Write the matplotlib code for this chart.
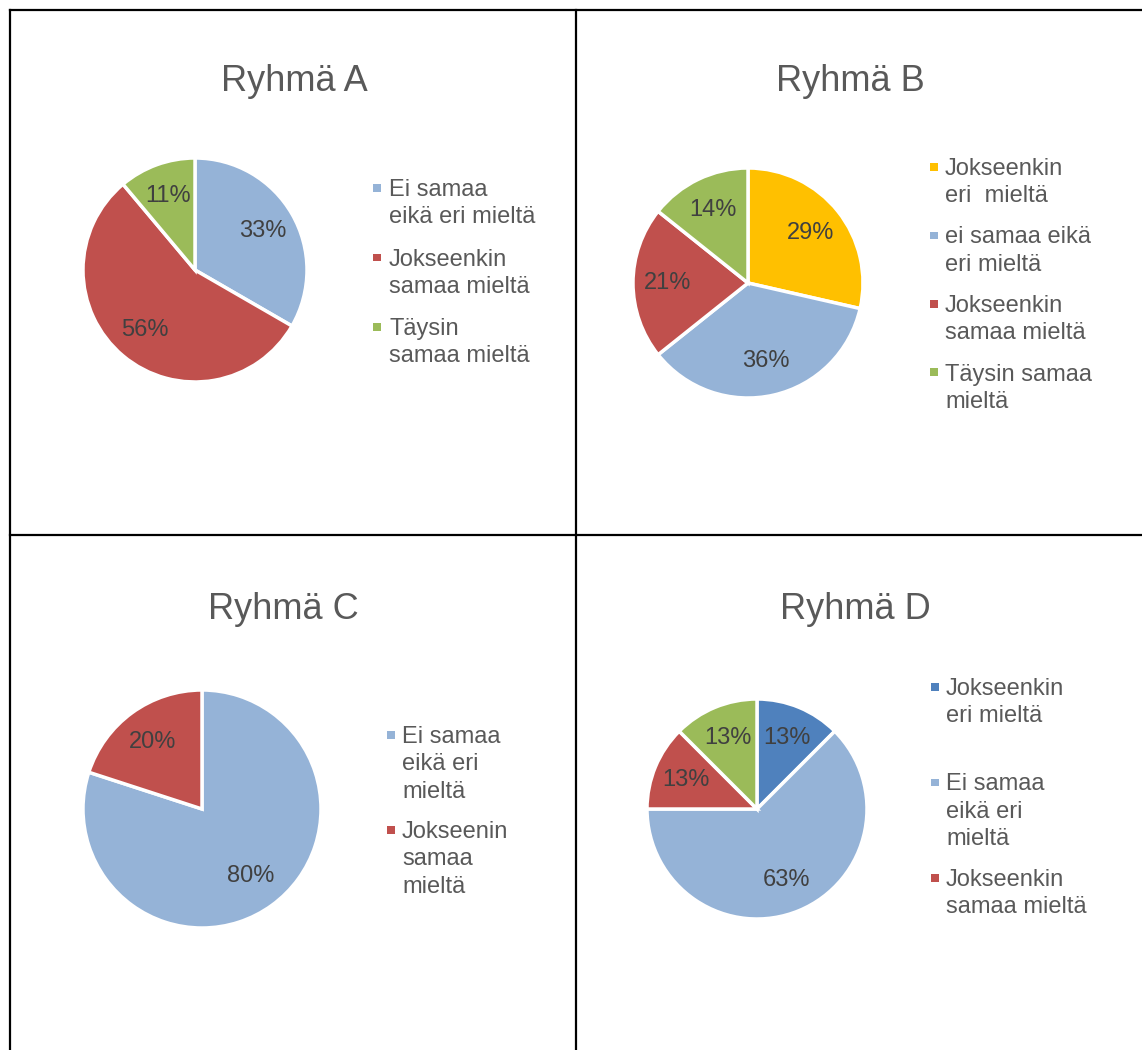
import math
import matplotlib
matplotlib.use("Agg")
import matplotlib.pyplot as plt
from matplotlib.lines import Line2D
from matplotlib.patches import Rectangle

plt.rcParams['font.family'] = ['Liberation Sans', 'DejaVu Sans']

# data (answer counts, shares shown as rounded percents)
titles = ["Ryhmä A", "Ryhmä B", "Ryhmä C", "Ryhmä D"]

a_values = [3, 5, 1]
a_labels = ["Ei samaa\neikä eri mieltä", "Jokseenkin\nsamaa mieltä", "Täysin\nsamaa mieltä"]
a_colors = ["#95B3D7", "#C0504D", "#9BBB59"]

b_values = [4, 5, 3, 2]
b_labels = ["Jokseenkin\neri  mieltä", "ei samaa eikä\neri mieltä", "Jokseenkin\nsamaa mieltä", "Täysin samaa\nmieltä"]
b_colors = ["#FFC000", "#95B3D7", "#C0504D", "#9BBB59"]

c_values = [4, 1]
c_labels = ["Ei samaa\neikä eri\nmieltä", "Jokseenin\nsamaa\nmieltä"]
c_colors = ["#95B3D7", "#C0504D"]

d_values = [1, 5, 1, 1]
d_labels = ["Jokseenkin\neri mieltä", "Ei samaa\neikä eri\nmieltä", "Jokseenkin\nsamaa mieltä"]
d_colors = ["#4F81BD", "#95B3D7", "#C0504D", "#9BBB59"]

W, H = 1142, 1050
fig = plt.figure(figsize=(W / 100, H / 100), dpi=100)

def fx(x):
    return x / W

def fy(y):
    return 1 - y / H

# table lines
for (x0, y0, x1, y1) in [(10, 10, W, 10), (10, 535, W, 535), (10, 10, 10, H), (576, 10, 576, H)]:
    fig.add_artist(Line2D([fx(x0), fx(x1)], [fy(y0), fy(y1)], color="black", lw=1.6))

# layout per panel: pie center/radius, title x/baseline, legend marker x, text x, first baseline, entry step
panels = [
    dict(values=a_values, labels=a_labels, colors=a_colors, cx=195, cy=270, r=112,
         tx=294, ty=91, mx=373, lx=389, ly=196, step=69.5),
    dict(values=b_values, labels=b_labels, colors=b_colors, cx=748, cy=283, r=115,
         tx=850, ty=91, mx=930, lx=945, ly=175, step=68.5),
    dict(values=c_values, labels=c_labels, colors=c_colors, cx=202, cy=809, r=119,
         tx=283, ty=619, mx=387, lx=402, ly=743, step=95),
    dict(values=d_values, labels=d_labels, colors=d_colors, cx=757, cy=809, r=110,
         tx=855, ty=619, mx=931, lx=946, ly=695, step=95.5),
]
line_step = 27.3

def pct(p):
    return "%d%%" % math.floor(p + 0.5)

for title, p in zip(titles, panels):
    ax = fig.add_axes([fx(p["cx"] - p["r"]), fy(p["cy"] + p["r"]), 2 * p["r"] / W, 2 * p["r"] / H])
    ax.pie(p["values"], colors=p["colors"], startangle=90, counterclock=False,
           autopct=pct, pctdistance=0.7,
           wedgeprops=dict(edgecolor="white", linewidth=2.5),
           textprops=dict(fontsize=17, color="#404040"))
    ax.set_xlim(-1, 1)
    ax.set_ylim(-1, 1)
    ax.set_aspect("equal")
    ax.axis("off")

    fig.text(fx(p["tx"]), fy(p["ty"]), title, ha="center", va="baseline",
             fontsize=26, color="#595959")

    # legend, marker beside first line of each entry
    for i, lab in enumerate(p["labels"]):
        base = p["ly"] + i * p["step"]
        fig.add_artist(Rectangle((fx(p["mx"]), fy(base - 4.5)), 7.5 / W, 7.5 / H,
                                 facecolor=p["colors"][i], edgecolor="none"))
        for j, line in enumerate(lab.split("\n")):
            fig.text(fx(p["lx"]), fy(base + j * line_step), line, ha="left", va="baseline",
                     fontsize=17, color="#595959")

fig.savefig("out.png", dpi=100, facecolor="white")
